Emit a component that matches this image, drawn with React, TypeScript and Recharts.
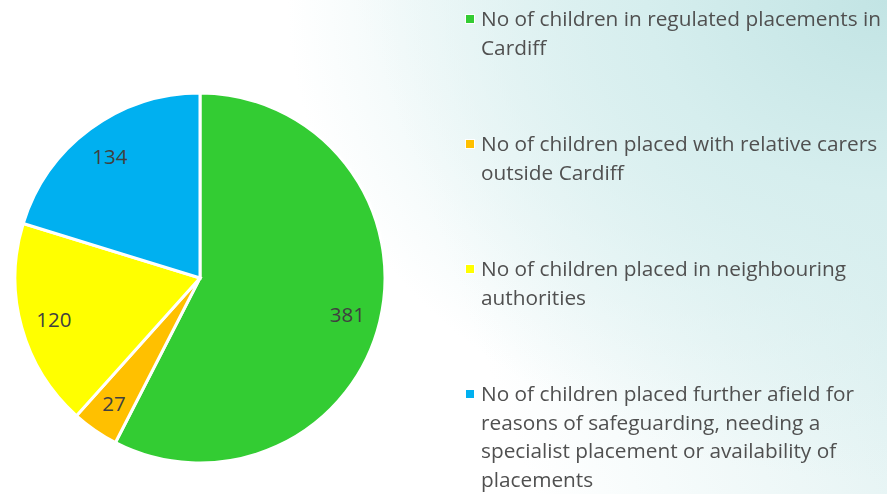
import { PieChart, Pie, Cell, Legend } from "recharts";

const CATEGORIES = [
  "No of children in regulated placements in\nCardiff",
  "No of children placed with relative carers\noutside Cardiff",
  "No of children placed in neighbouring\nauthorities",
  "No of children placed further afield for\nreasons of safeguarding, needing a\nspecialist placement or availability of\nplacements",
];
const VALUES = [381, 27, 120, 134];
const COLORS = ["#33CC33", "#FFC000", "#FFFF00", "#00B0F0"];

const data = CATEGORIES.map((name, i) => ({ name, value: VALUES[i], color: COLORS[i] }));

const FONT = "'Open Sans', sans-serif";
const TEXT = "#505050";
const RADIAN = Math.PI / 180;

const renderLabel = (props: any) => {
  const { cx, cy, midAngle, outerRadius, value } = props;
  const r = outerRadius * 0.82;
  const x = cx + r * Math.cos(-midAngle * RADIAN);
  const y = cy + r * Math.sin(-midAngle * RADIAN);
  return (
    <text
      x={x}
      y={y}
      fill="#404040"
      fontSize={20.5}
      fontFamily={FONT}
      textAnchor="middle"
      dominantBaseline="central"
    >
      {value}
    </text>
  );
};

const renderLegend = () => (
  <div style={{ fontFamily: FONT, color: TEXT, fontSize: 20.8, lineHeight: "28.5px" }}>
    {data.map((d) => (
      <div key={d.name} style={{ display: "flex", height: 125 }}>
        <div
          style={{
            width: 8,
            height: 8,
            background: d.color,
            border: "1.5px solid #fff",
            marginTop: 10,
            marginRight: 6,
            flexShrink: 0,
          }}
        />
        <div style={{ whiteSpace: "pre-line" }}>{d.name}</div>
      </div>
    ))}
  </div>
);

export default function App() {
  return (
    <div
      style={{
        position: "fixed",
        left: 0,
        top: 0,
        width: 887,
        height: 494,
        background:
          "radial-gradient(ellipse 600px 480px at 100% 0%, #c2e4e4 0%, #d6eeee 40%, rgba(255,255,255,0) 100%), linear-gradient(70deg, #ffffff 50%, #e6f4f4 85%, #d8eeee 100%)",
      }}
    >
      <PieChart width={887} height={494} margin={{ top: 0, right: 0, bottom: 0, left: 0 }}>
        <Pie
          data={data}
          dataKey="value"
          nameKey="name"
          cx={200}
          cy={278}
          outerRadius={185}
          startAngle={90}
          endAngle={-270}
          stroke="#ffffff"
          strokeWidth={3}
          label={renderLabel}
          labelLine={false}
          isAnimationActive={false}
        >
          {data.map((d) => (
            <Cell key={d.name} fill={d.color} />
          ))}
        </Pie>
        <Legend
          layout="vertical"
          content={renderLegend}
          wrapperStyle={{ left: 465, top: 4, width: 422 }}
        />
      </PieChart>
    </div>
  );
}
